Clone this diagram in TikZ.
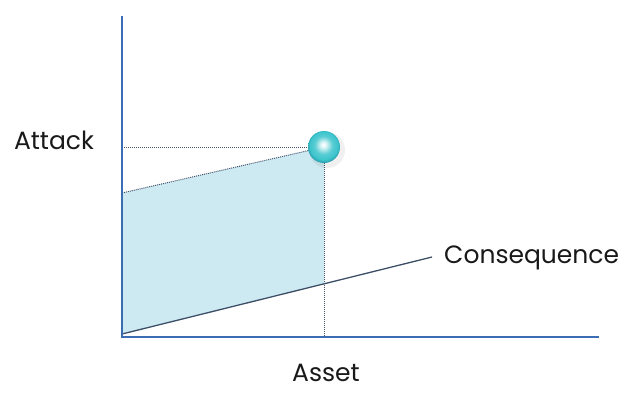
\documentclass[tikz,border=0pt]{standalone}
\usepackage{fontspec}
\setmainfont{Poppins}
\definecolor{ballc}{HTML}{3CC4CC}
\definecolor{balledge}{HTML}{2A9FAE}
\pgfdeclareradialshading{myball}{\pgfpoint{-1bp}{4bp}}{color(0bp)=(white); color(4bp)=(white!85!ballc); color(14bp)=(ballc!85!white); color(22bp)=(ballc); color(26bp)=(balledge); color(50bp)=(balledge)}
\begin{document}
\begin{tikzpicture}[x=1pt,y=-1pt,
  axis/.style={draw=axisblue,line width=2pt},
  dotline/.style={draw=dotgray,line width=1pt,dash pattern=on 1pt off 1pt},
  lbl/.style={font=\fontsize{25}{30}\selectfont,text=black!90,inner sep=0pt}]
\definecolor{axisblue}{HTML}{3A6DB3}
\definecolor{dotgray}{HTML}{42526A}
\definecolor{fillblue}{HTML}{CDE9F1}
\definecolor{conscol}{HTML}{3D4F66}
\useasboundingbox (0,0) rectangle (633,392);
\coordinate (O) at (122,337);
\coordinate (Ytop) at (122,16);
\coordinate (Xend) at (599,337);
\coordinate (Ya) at (122,147);
\coordinate (Yb) at (122,193);
\coordinate (Cs) at (122,334);
\coordinate (Ce) at (432,257);
\coordinate (P) at (324,147);
\coordinate (Pb) at (324,337);
\coordinate (Pc) at (324,284);
\fill[fillblue] (Yb) -- (P) -- (Pc) -- (Cs) -- cycle;
\draw[dotline] (Ya) -- (P);
\draw[dotline] (Yb) -- (P);
\draw[dotline] (P) -- (Pb);
\draw[conscol,line width=1.3pt] (Cs) -- (Ce);
\draw[axis] (Ytop) -- (O) -- (Xend);
\fill[black,opacity=0.06] (327,150) circle (18);
\shade[shading=myball] (P) circle (16);
\node[lbl,anchor=base] (att) at (54,149) {Attack};
\node[lbl,anchor=base west] (cons) at (444,263) {Consequence};
\node[lbl,anchor=base] (ast) at (326,381) {Asset};
\end{tikzpicture}
\end{document}
